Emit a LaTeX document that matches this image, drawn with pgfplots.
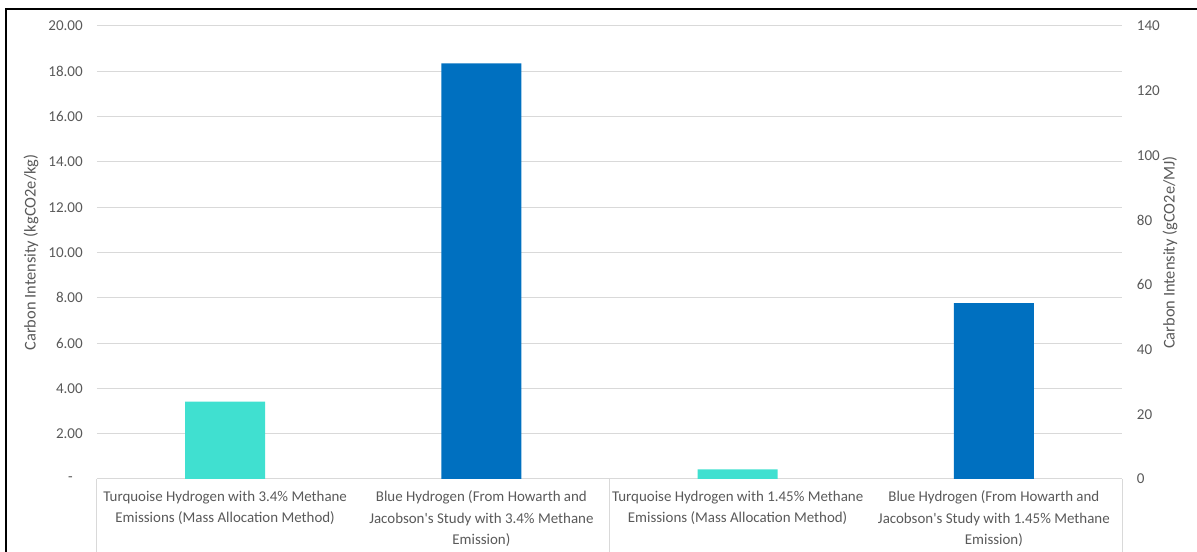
\documentclass[border=0pt]{standalone}
\usepackage{fontspec}
\setmainfont{Carlito}
\usepackage{pgfplots}
\pgfplotsset{compat=1.18}

\definecolor{txtgray}{HTML}{595959}
\definecolor{gridgray}{HTML}{D9D9D9}
\definecolor{turq}{HTML}{40E0D0}
\definecolor{hblue}{HTML}{0070C0}

\begin{document}
\begin{tikzpicture}
\pgfplotsset{
  frame geometry/.style={
    at={(72.75pt,54.75pt)}, anchor=south west,
    scale only axis, width=768.75pt, height=339.75pt,
    xmin=-0.5, xmax=3.5, ymin=0,
    clip=false,
    tick label style={text=txtgray, font=\fontsize{11.3}{13}\selectfont},
    label style={text=txtgray, font=\fontsize{12.3}{14}\selectfont},
  },
}

% left axis: kgCO2e/kg, bars and category labels
\begin{axis}[
  frame geometry,
  ymax=20,
  ybar, bar width=60pt,
  axis x line*=bottom, axis y line*=left,
  x axis line style={draw=gridgray, line width=0.75pt},
  y axis line style={draw=none},
  ytick={0,2,...,20},
  yticklabels={-\hspace{7.5pt}\mbox{},2.00,4.00,6.00,8.00,10.00,12.00,14.00,16.00,18.00,20.00},
  yticklabel style={anchor=east, inner sep=0pt, xshift=-10.5pt},
  ytick style={draw=none},
  ymajorgrids, grid style={draw=gridgray, line width=0.75pt},
  xtick={0,1,2,3},
  xticklabels={
    {Turquoise Hydrogen with 3.4\% Methane\\Emissions (Mass Allocation Method)},
    {Blue Hydrogen (From Howarth and\\Jacobson\textquotesingle s Study with 3.4\% Methane\\Emission)},
    {Turquoise Hydrogen with 1.45\% Methane\\Emissions (Mass Allocation Method)},
    {Blue Hydrogen (From Howarth and\\Jacobson\textquotesingle s Study with 1.45\% Methane\\Emission)}},
  xticklabel style={anchor=north, align=center, inner sep=0pt, yshift=-8.7pt,
    font=\fontsize{11.2}{16.1}\selectfont},
  major tick length=0pt,
  xtick style={draw=gridgray, line width=0.75pt},
  extra x ticks={-0.5,1.5,3.5},
  extra x tick labels={},
  extra x tick style={major tick length=60pt, tick align=outside,
    xtick style={draw=gridgray, line width=0.75pt}},
  ylabel={Carbon Intensity (kgCO2e/kg)},
  ylabel style={at={(axis description cs:-0.0644,0.5)}, anchor=center},
]
\addplot[fill=turq, draw=none, bar shift=0pt] coordinates {(0,3.42) (2,0.42)};
\addplot[fill=hblue, draw=none, bar shift=0pt] coordinates {(1,18.35) (3,7.76)};
\end{axis}

% right axis: gCO2e/MJ
\begin{axis}[
  frame geometry,
  ymax=140,
  axis x line=none, axis y line*=right,
  y axis line style={draw=none},
  ytick={0,20,...,140},
  yticklabels={0,20,40,60,80,100,120,140},
  yticklabel style={anchor=west, inner sep=0pt, xshift=11pt},
  ytick style={draw=none},
  major tick length=0pt,
  ylabel={Carbon Intensity (gCO2e/MJ)},
  ylabel style={at={(axis description cs:1.0468,0.5)}, anchor=center, rotate=0},
]
\end{axis}

% outer frame
\draw[black, line width=1.7pt] (4.6pt,-5pt) -- (4.6pt,407.25pt) -- (905pt,407.25pt);

\pgfresetboundingbox
\useasboundingbox (0,0) rectangle (897.75pt,414pt);
\end{tikzpicture}
\end{document}
